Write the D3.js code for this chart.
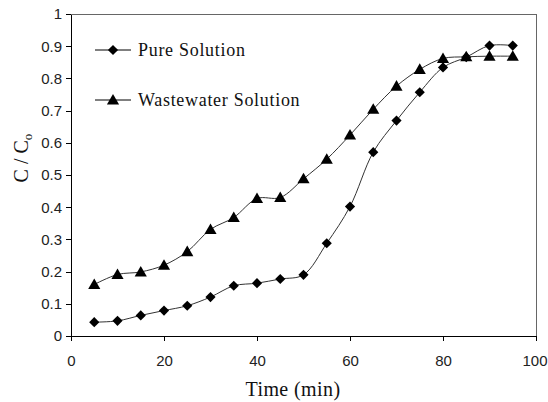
<!DOCTYPE html>
<html>
<head>
<meta charset="utf-8">
<script src="https://cdn.jsdelivr.net/npm/d3@7"></script>
<style>
  body { margin: 0; background: #fff; }
  svg { display: block; }
</style>
</head>
<body>
<svg id="main" width="548" height="402"></svg>
<script>
// time (min)
var times = [5, 10, 15, 20, 25, 30, 35, 40, 45, 50, 55, 60, 65, 70, 75, 80, 85, 90, 95];
var pure = [0.043, 0.047, 0.064, 0.079, 0.094, 0.121, 0.156, 0.164, 0.177, 0.190, 0.288, 0.402, 0.571, 0.669, 0.757, 0.834, 0.866, 0.902, 0.902];
var waste = [0.160, 0.191, 0.199, 0.220, 0.262, 0.331, 0.368, 0.427, 0.430, 0.488, 0.549, 0.624, 0.704, 0.776, 0.828, 0.862, 0.867, 0.869, 0.869];
var xTicks = [0, 20, 40, 60, 80, 100];
var yTicks = [0, 0.1, 0.2, 0.3, 0.4, 0.5, 0.6, 0.7, 0.8, 0.9, 1];
var seriesNames = ["Pure Solution", "Wastewater Solution"];

var svg = d3.select("#main");
var pLeft = 71, pRight = 536, pTop = 14, pBottom = 336;

var x = d3.scaleLinear().domain([0, 100]).range([pLeft, pRight]);
var y = d3.scaleLinear().domain([0, 1]).range([pBottom, pTop]);

// frame (top/right gray)
svg.append("path")
    .attr("d", "M" + pLeft + "," + pTop + "H" + pRight + "V" + pBottom)
    .attr("fill", "none").attr("stroke", "#666").attr("stroke-width", 1)
    .attr("shape-rendering", "crispEdges");

var xAxis = svg.append("g")
    .attr("transform", "translate(0," + pBottom + ")")
    .call(d3.axisBottom(x).tickValues(xTicks).tickSize(5).tickSizeOuter(0).tickPadding(14).tickFormat(d3.format("d")));
var yAxis = svg.append("g")
    .attr("transform", "translate(" + pLeft + ",0)")
    .call(d3.axisLeft(y).tickValues(yTicks).tickSize(5).tickSizeOuter(0).tickPadding(4).tickFormat(function(d){ return String(+d.toFixed(1)); }));

[xAxis, yAxis].forEach(function(a){
    a.selectAll("path,line").attr("stroke", "#000").attr("shape-rendering", "crispEdges");
    a.selectAll("text").attr("fill", "#222")
        .style("font-family", "'Liberation Sans', Arial, sans-serif")
        .style("font-size", "15px");
});
// last x label sits against the right edge
xAxis.selectAll(".tick text").filter(function(d){ return d === 100; }).attr("dx", -1.5);

var line = d3.line()
    .x(function(d){ return x(d[0]); })
    .y(function(d){ return y(d[1]); })
    .curve(d3.curveCatmullRom.alpha(0.5));

var pureData = times.map(function(t, i){ return [t, pure[i]]; });
var wasteData = times.map(function(t, i){ return [t, waste[i]]; });

var diamond = d3.symbol().type(d3.symbolDiamond2).size(66);
var triangle = d3.symbol().type(d3.symbolTriangle).size(64);

function series(data, sym, dy){
    svg.append("path").datum(data)
        .attr("d", line)
        .attr("fill", "none").attr("stroke", "#333").attr("stroke-width", 1);
    svg.selectAll(null).data(data).enter()
        .append("path")
        .attr("d", sym)
        .attr("transform", function(d){ return "translate(" + x(d[0]) + "," + (y(d[1]) + dy) + ")"; })
        .attr("fill", "#000");
}
series(pureData, diamond, 0);
series(wasteData, triangle, 1);

// legend
var legend = svg.append("g");
[[50, diamond, 0], [100, triangle, 1]].forEach(function(r, i){
    legend.append("line")
        .attr("x1", 95).attr("x2", 131).attr("y1", r[0]).attr("y2", r[0])
        .attr("stroke", "#000").attr("stroke-width", 1);
    legend.append("path").attr("d", r[1])
        .attr("transform", "translate(113," + (r[0] + r[2]) + ")")
        .attr("fill", "#000");
    legend.append("text")
        .attr("x", 138).attr("y", r[0] + 6)
        .style("font-family", "'Liberation Serif', 'Times New Roman', serif")
        .style("font-size", "18px").style("letter-spacing", "0.7px")
        .attr("fill", "#111")
        .text(seriesNames[i]);
});

// axis titles
svg.append("text")
    .attr("x", 293).attr("y", 396)
    .attr("text-anchor", "middle")
    .style("font-family", "'Liberation Serif', 'Times New Roman', serif")
    .style("font-size", "20px").style("letter-spacing", "0.4px")
    .attr("fill", "#111")
    .text("Time (min)");

var yt = svg.append("text")
    .attr("transform", "translate(28,158) rotate(-90)")
    .attr("text-anchor", "middle")
    .style("font-family", "'Liberation Serif', 'Times New Roman', serif")
    .style("font-size", "20px")
    .attr("fill", "#111");
yt.append("tspan").text("C / C");
yt.append("tspan").attr("dy", 4).style("font-size", "13px").text("o");
</script>
</body>
</html>
